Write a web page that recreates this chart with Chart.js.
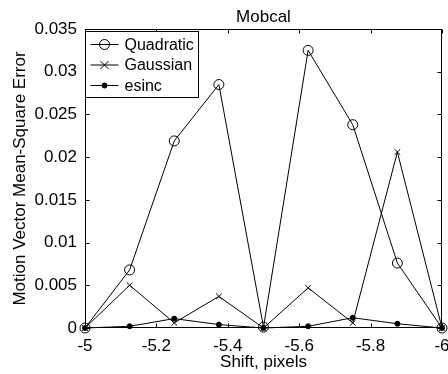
<!DOCTYPE html>
<html>
<head>
<meta charset="utf-8">
<script src="https://cdn.jsdelivr.net/npm/chart.js@4/dist/chart.umd.min.js"></script>
<style>
  html, body { margin: 0; padding: 0; background: #fff; }
  #wrap { width: 448px; height: 374px; }
</style>
</head>
<body>
<div id="wrap"><canvas id="mse"></canvas></div>
<script>
// values
const shifts = [-5, -5.125, -5.25, -5.375, -5.5, -5.625, -5.75, -5.875, -6];
const quadratic = [0, 0.0068, 0.0219, 0.0285, 0.0001, 0.0325, 0.0238, 0.0076, 0];
const gaussian = [0, 0.0050, 0.0006, 0.0037, 0, 0.0047, 0.0006, 0.0206, 0];
const esinc = [0, 0.0002, 0.0011, 0.0004, 0, 0.0002, 0.0012, 0.0005, 0];

const xTicks = [-5, -5.2, -5.4, -5.6, -5.8, -6];
const xTickLabels = ["-5", "-5.2", "-5.4", "-5.6", "-5.8", "-6"];
const yTicks = [0, 0.005, 0.01, 0.015, 0.02, 0.025, 0.03, 0.035];
const yTickLabels = ["0", "0.005", "0.01", "0.015", "0.02", "0.025", "0.03", "0.035"];

const FONT = "'Liberation Sans', Arial, sans-serif";
Chart.defaults.font.family = FONT;
Chart.defaults.color = "#000";

const toPoints = (ys) => shifts.map((s, i) => ({ x: s, y: ys[i] }));

// draw one legend marker (same look as the dataset points)
function drawMarker(ctx, style, r, filled, x, y) {
  ctx.beginPath();
  if (style === "crossRot") {
    ctx.moveTo(x - r, y - r); ctx.lineTo(x + r, y + r);
    ctx.moveTo(x + r, y - r); ctx.lineTo(x - r, y + r);
    ctx.stroke();
    return;
  }
  ctx.arc(x, y, r, 0, Math.PI * 2);
  if (filled) ctx.fill();
  ctx.stroke();
}

// axes box with inward ticks, matlab style
const axesBox = {
  id: "axesBox",
  afterDatasetsDraw(chart) {
    const { ctx, chartArea: a, scales: { x, y } } = chart;
    const L = Math.round(a.left) + 0.5, R = Math.round(a.right) - 0.5;
    const T = Math.round(a.top) + 0.5, B = Math.round(a.bottom) - 0.5;
    ctx.save();
    ctx.strokeStyle = "#000";
    ctx.lineWidth = 1;
    ctx.strokeRect(L, T, R - L, B - T);
    ctx.beginPath();
    xTicks.forEach(v => {
      const px = Math.round(x.getPixelForValue(v)) + 0.5;
      ctx.moveTo(px, B); ctx.lineTo(px, B - 4);
      ctx.moveTo(px, T); ctx.lineTo(px, T + 4);
    });
    yTicks.forEach(v => {
      const py = Math.round(y.getPixelForValue(v)) + 0.5;
      ctx.moveTo(L, py); ctx.lineTo(L + 4, py);
      ctx.moveTo(R, py); ctx.lineTo(R - 4, py);
    });
    ctx.stroke();
    ctx.restore();
  },
  afterDraw(chart) {
    // legend box in the top-left corner
    const { ctx, chartArea: a } = chart;
    const bx = Math.round(a.left) + 0.5, by = Math.round(a.top) + 2.5;
    const bw = 113, bh = 66;
    ctx.save();
    ctx.fillStyle = "#fff";
    ctx.fillRect(bx, by, bw, bh);
    ctx.strokeStyle = "#000";
    ctx.lineWidth = 1;
    ctx.strokeRect(bx, by, bw, bh);
    ctx.font = "16px " + FONT;
    ctx.textBaseline = "middle";
    chart.data.datasets.forEach((ds, i) => {
      const ly = by + 13 + i * 20.5;
      ctx.strokeStyle = "#000";
      ctx.fillStyle = "#000";
      ctx.beginPath();
      ctx.moveTo(bx + 5, ly); ctx.lineTo(bx + 33, ly);
      ctx.stroke();
      drawMarker(ctx, ds.pointStyle, ds.pointRadius, ds.pointBackgroundColor === "#000", bx + 19, ly);
      ctx.fillStyle = "#000";
      ctx.fillText(ds.label, bx + 39, ly + 1);
    });
    ctx.restore();
  }
};

const tickFont = { size: 17, family: FONT };

new Chart(document.getElementById("mse"), {
  type: "line",
  data: {
    datasets: [
      {
        label: "Quadratic",
        data: toPoints(quadratic),
        borderColor: "#000",
        borderWidth: 1,
        pointStyle: "circle",
        pointRadius: 5,
        pointBorderColor: "#000",
        pointBackgroundColor: "rgba(0,0,0,0)",
        pointBorderWidth: 1,
        clip: false
      },
      {
        label: "Gaussian",
        data: toPoints(gaussian),
        borderColor: "#000",
        borderWidth: 1,
        pointStyle: "crossRot",
        pointRadius: 4,
        pointBorderColor: "#000",
        pointBorderWidth: 1,
        clip: false
      },
      {
        label: "esinc",
        data: toPoints(esinc),
        borderColor: "#000",
        borderWidth: 1,
        pointStyle: "circle",
        pointRadius: 2.5,
        pointBorderColor: "#000",
        pointBackgroundColor: "#000",
        pointBorderWidth: 1,
        clip: false
      }
    ]
  },
  options: {
    responsive: true,
    maintainAspectRatio: false,
    animation: false,
    devicePixelRatio: 1,
    layout: { padding: { left: 0, right: 2, top: 0, bottom: 0 } },
    plugins: {
      legend: { display: false },
      tooltip: { enabled: false }
    },
    scales: {
      x: {
        type: "linear",
        min: -6,
        max: -5,
        reverse: true,
        afterBuildTicks: s => { s.ticks = xTicks.map(v => ({ value: v })); },
        afterFit: s => { s.height = 46; s.paddingLeft = 0; s.paddingRight = 0; },
        grid: { display: false, drawTicks: false },
        border: { display: false },
        ticks: {
          padding: 8,
          font: tickFont,
          color: "#000",
          maxRotation: 0,
          autoSkip: false,
          callback: (v) => xTickLabels[xTicks.indexOf(v)]
        },
        title: {
          display: true,
          text: "Shift, pixels",
          color: "#000",
          font: tickFont,
          padding: { top: 0, bottom: 1 }
        }
      },
      // top axis only carries the plot title, centred over the axes box
      x2: {
        type: "linear",
        position: "top",
        min: -6,
        max: -5,
        reverse: true,
        afterFit: s => { s.height = 29; s.paddingLeft = 0; s.paddingRight = 0; },
        grid: { display: false, drawTicks: false },
        border: { display: false },
        ticks: { display: false },
        title: {
          display: true,
          text: "Mobcal",
          color: "#000",
          font: tickFont,
          padding: { top: 7, bottom: 0 }
        }
      },
      y: {
        min: 0,
        max: 0.035,
        afterBuildTicks: s => { s.ticks = yTicks.map(v => ({ value: v })); },
        afterFit: s => { s.width = 85; s.paddingTop = 0; s.paddingBottom = 0; },
        grid: { display: false, drawTicks: false },
        border: { display: false },
        ticks: {
          padding: 8,
          font: tickFont,
          color: "#000",
          autoSkip: false,
          callback: (v) => yTickLabels[yTicks.indexOf(v)]
        },
        title: {
          display: true,
          text: "Motion Vector Mean-Square Error",
          color: "#000",
          font: tickFont,
          padding: { top: 10, bottom: 0 }
        }
      }
    }
  },
  plugins: [axesBox]
});
</script>
</body>
</html>
